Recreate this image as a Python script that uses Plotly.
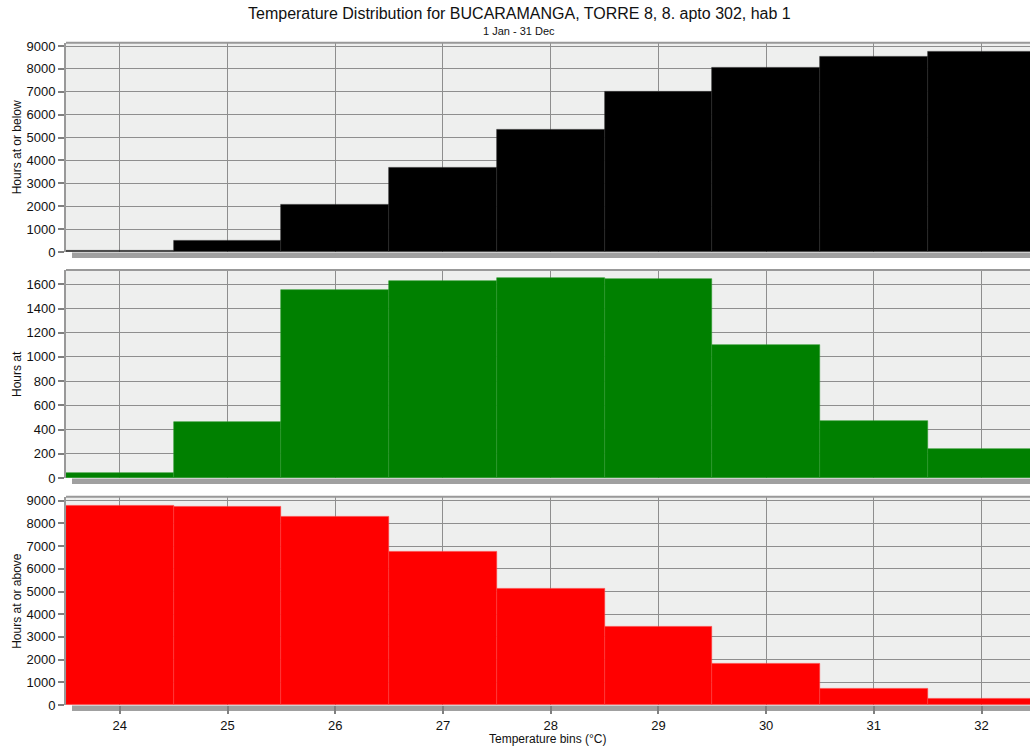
import plotly.graph_objects as go

bins = [24, 25, 26, 27, 28, 29, 30, 31, 32]
hours_below = [45, 505, 2060, 3675, 5330, 6985, 8057, 8520, 8740]
hours_at = [45, 462, 1550, 1628, 1652, 1643, 1102, 472, 240]
hours_above = [8800, 8750, 8280, 6740, 5110, 3440, 1840, 730, 260]

title = "Temperature Distribution for BUCARAMANGA, TORRE 8, 8. apto 302, hab 1"
subtitle = "1 Jan - 31 Dec"
ylabels = ["Hours at or below", "Hours at", "Hours at or above"]
xlabel = "Temperature bins (°C)"

W, H = 1030, 751
FONT = "Liberation Sans, Arial, sans-serif"
GRID = "#8e8e8e"

def py(px):
    return 1 - px / H

panels = [  # (top px, bottom px, yrange max, dtick, data, color, line color)
    (42.7, 252, 9145, 1000, hours_below, "#000000", "#2a2a2a"),
    (270, 478, 1718, 200, hours_at, "#008000", "#2c9a2c"),
    (496.7, 705, 9176, 1000, hours_above, "#ff0000", "#ff3c3c"),
]

fig = go.Figure()
layout = dict(
    width=W, height=H,
    margin=dict(l=0, r=0, t=0, b=0, pad=0, autoexpand=False),
    paper_bgcolor="white",
    plot_bgcolor="#eeefee",
    bargap=0,
    showlegend=False,
    font=dict(family=FONT, size=12, color="#111111"),
)
shapes = []
annotations = []
xdom = [66 / W, 1.0]
for i, (top, bot, ymax, dt, data, col, lcol) in enumerate(panels):
    n = "" if i == 0 else str(i + 1)
    fig.add_trace(go.Bar(
        x=bins, y=data, width=1.0,
        marker=dict(color=col, line=dict(color=lcol, width=0.6)),
        xaxis="x" + n, yaxis="y" + n,
    ))
    layout["xaxis" + n] = dict(
        domain=xdom, anchor="y" + n, range=[23.5, 32.45],
        tickmode="array", tickvals=bins, ticktext=[str(b) for b in bins],
        showticklabels=(i == 2),
        ticks="outside" if i == 2 else "", ticklen=8, tickcolor="#808080", tickwidth=1.5,
        showgrid=True, gridcolor=GRID, gridwidth=1.2,
        showline=False, zeroline=False, automargin=False,
        tickfont=dict(size=13, color="#111111"),
        fixedrange=True,
    )
    layout["yaxis" + n] = dict(
        domain=[py(bot), py(top)], anchor="x" + n, range=[0, ymax],
        dtick=dt, tick0=0,
        ticks="outside", ticklen=6, tickcolor="#808080", tickwidth=1.5,
        showgrid=True, gridcolor=GRID, gridwidth=1.2,
        showline=True, linecolor="#999999", linewidth=2,
        zeroline=False, automargin=False,
        tickfont=dict(size=13, color="#111111"),
        fixedrange=True,
    )
    # top border
    shapes.append(dict(type="line", xref="paper", yref="paper",
                       x0=66 / W, x1=1, y0=py(top), y1=py(top),
                       line=dict(color="#999999", width=2)))
    # bottom shadow
    shapes.append(dict(type="rect", xref="paper", yref="paper",
                       x0=72 / W, x1=1, y0=py(bot + 6), y1=py(bot + 0.5),
                       fillcolor="#a0a0a0", line=dict(width=0), layer="below"))
    annotations.append(dict(
        text=ylabels[i], xref="paper", yref="paper",
        x=17 / W, y=py((top + bot) / 2), textangle=-90,
        showarrow=False, font=dict(size=12, color="#111111"),
        xanchor="center", yanchor="middle",
    ))

annotations.append(dict(text=title, xref="paper", yref="paper", x=519 / W, y=py(14),
                        showarrow=False, font=dict(size=16, color="#111111"),
                        xanchor="center", yanchor="middle"))
annotations.append(dict(text=subtitle, xref="paper", yref="paper", x=519 / W, y=py(31),
                        showarrow=False, font=dict(size=11, color="#111111"),
                        xanchor="center", yanchor="middle"))
annotations.append(dict(text=xlabel, xref="paper", yref="paper", x=548 / W, y=py(739),
                        showarrow=False, font=dict(size=12, color="#111111"),
                        xanchor="center", yanchor="middle"))
layout["shapes"] = shapes
layout["annotations"] = annotations
fig.update_layout(**layout)
fig.write_html("out.html", config={"displayModeBar": False},
               post_script="document.body.style.margin='0';document.body.style.overflow='hidden';")
